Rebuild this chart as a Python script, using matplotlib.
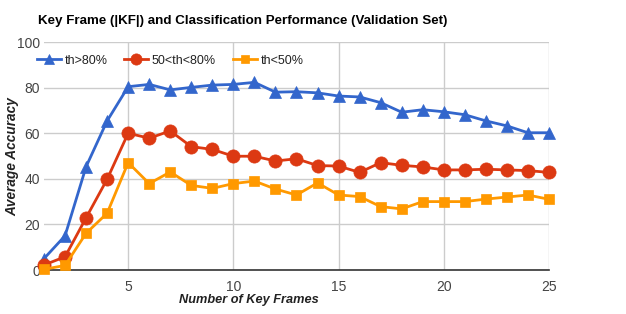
import matplotlib.pyplot as plt
import numpy as np

plt.rcParams["font.family"] = ["Liberation Sans", "DejaVu Sans"]

frames = np.arange(1, 26)
th_high = [5, 15, 45.3, 65.4, 80.4, 81.4, 79, 80.1, 81.1, 81.4, 82.3, 78, 78.2, 77.7,
           76.3, 75.9, 73.4, 69.2, 70.3, 69.4, 68.1, 65.4, 63.2, 60.2, 60.2]
th_mid = [2.2, 5.8, 22.9, 39.8, 60, 57.8, 61, 54.1, 52.9, 49.9, 49.9, 47.8, 48.8, 45.8,
          45.6, 42.8, 47.1, 45.9, 45.2, 43.9, 43.9, 44.2, 43.9, 43.6, 42.8]
th_low = [0.3, 2, 16.1, 24.9, 47.1, 37.9, 43, 37.1, 35.8, 37.9, 39, 35.5, 32.9, 38.2,
          32.9, 32.2, 27.8, 26.8, 30, 30, 30, 31.1, 32, 32.9, 31]

series = [
    ("th>80%", th_high, "#3366CC", "^", 8),
    ("50<th<80%", th_mid, "#DC3912", "o", 9.5),
    ("th<50%", th_low, "#FF9900", "s", 7.5),
]

fig = plt.figure(figsize=(6.26, 3.14), dpi=100)
ax = fig.add_axes([44 / 626, 1 - 270 / 314, 505 / 626, 228 / 314])

for label, vals, color, marker, ms in series:
    ax.plot(frames, vals, color=color, linewidth=2, marker=marker, markersize=ms,
            markeredgecolor=color, markeredgewidth=0.5, label=label, clip_on=False,
            zorder=3)

ax.set_xlim(1, 25)
ax.set_ylim(0, 100)
ax.set_xticks([5, 10, 15, 20, 25])
ax.set_yticks([0, 20, 40, 60, 80, 100])
ax.grid(True, color="#cccccc", linewidth=1)
ax.set_axisbelow(True)
ax.tick_params(axis="x", length=0, labelsize=10, labelcolor="#444444", pad=7)
ax.tick_params(axis="y", length=0, labelsize=10, labelcolor="#444444", pad=3)
for side in ["top", "right", "left"]:
    ax.spines[side].set_visible(False)
ax.spines["bottom"].set_color("#333333")
ax.spines["bottom"].set_linewidth(1.2)

fig.text(249 / 626, 1 - 300 / 314, "Number of Key Frames", fontsize=9.2,
         fontweight="bold", style="italic", color="#222222", ha="center", va="center")
fig.text(12 / 626, 1 - 157 / 314, "Average Accuracy", fontsize=9.8, rotation=90,
         fontweight="bold", style="italic", color="#222222", ha="center", va="center")

ax.legend(loc="center left", bbox_to_anchor=(-0.036, 0.918), ncol=3, frameon=False,
          fontsize=9.0, handlelength=1.9, columnspacing=1.35, handletextpad=0.3,
          markerscale=0.85, labelcolor="#222222")

fig.text(38 / 626, 1 - 21 / 314, "Key Frame (|KF|) and Classification Performance (Validation Set)",
         fontsize=9.6, fontweight="bold", va="center", ha="left", color="#000000")

fig.savefig("out.png", dpi=100)
